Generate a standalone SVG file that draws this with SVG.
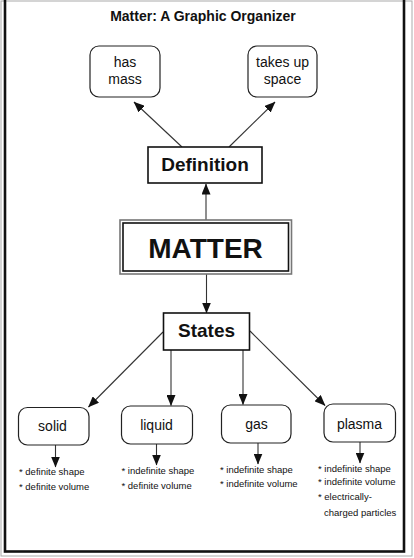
<svg xmlns="http://www.w3.org/2000/svg" width="414" height="558" viewBox="0 0 414 558">
<defs>
<marker id="ah" markerUnits="userSpaceOnUse" markerWidth="11" markerHeight="9" refX="10.5" refY="4.5" orient="auto">
<path d="M0,0 L11,4.5 L0,9 z" fill="#111"/>
</marker>
<style>
.txt{font-family:"Liberation Sans",Arial,sans-serif;fill:#111}
.b{font-weight:bold}
.rnd{fill:#fff;stroke:#222;stroke-width:1.2}
.sq{fill:#fff;stroke:#111;stroke-width:1.6}
.con line{stroke:#333;stroke-width:1.1;marker-end:url(#ah)}
.small{font-size:9.5px}
.lbl{font-size:14px;text-anchor:middle}
</style>
</defs>
<rect x="0" y="0" width="414" height="558" fill="#fff"/>
<rect x="1" y="1" width="411" height="555" fill="none" stroke="#aaa" stroke-width="1"/>
<rect x="5" y="-4" width="399" height="555.5" fill="none" stroke="#111" stroke-width="2.6"/>
<text class="txt b" x="203" y="21" font-size="14" text-anchor="middle">Matter: A Graphic Organizer</text>
<g class="con" id="connectors">
<line x1="182" y1="147" x2="134" y2="102"/>
<line x1="229" y1="147" x2="275" y2="102"/>
<line x1="206" y1="220" x2="206" y2="184"/>
<line x1="206.5" y1="274" x2="206.5" y2="313"/>
<line x1="163" y1="332" x2="88.5" y2="407"/>
<line x1="171" y1="350" x2="171" y2="405.5"/>
<line x1="243" y1="350" x2="243" y2="404.5"/>
<line x1="250" y1="331" x2="325" y2="405.5"/>
<line x1="55.5" y1="445" x2="55.5" y2="467"/>
<line x1="156.5" y1="444" x2="156.5" y2="465"/>
<line x1="258" y1="443" x2="258" y2="464"/>
<line x1="360" y1="442" x2="360" y2="463"/>
</g>
<g id="has-mass">
<rect class="rnd" x="90" y="46" width="70" height="51" rx="9"/>
<text class="txt lbl" x="125" y="67">has</text>
<text class="txt lbl" x="125" y="84">mass</text>
</g>
<g id="takes-up-space">
<rect class="rnd" x="248" y="46" width="69" height="51" rx="9"/>
<text class="txt lbl" x="282.5" y="67">takes up</text>
<text class="txt lbl" x="282.5" y="84">space</text>
</g>
<g id="definition">
<rect class="sq" x="148" y="147" width="114" height="36"/>
<text class="txt b" x="205" y="171" font-size="19" text-anchor="middle">Definition</text>
</g>
<g id="matter">
<rect x="120" y="220" width="171.5" height="54" fill="#fff" stroke="#777" stroke-width="1.6"/>
<rect x="123" y="223" width="165.5" height="48" fill="none" stroke="#111" stroke-width="1.6"/>
<text class="txt b" x="205.5" y="258" font-size="28" text-anchor="middle">MATTER</text>
</g>
<g id="states">
<rect class="sq" x="163.5" y="313" width="86" height="37"/>
<text class="txt b" x="206.5" y="337" font-size="19" text-anchor="middle">States</text>
</g>
<g id="solid">
<rect class="rnd" x="18.5" y="407.5" width="70.5" height="37.5" rx="9"/>
<text class="txt lbl" x="52.5" y="430.5">solid</text>
<text class="txt small" x="19" y="475">* definite shape</text>
<text class="txt small" x="19" y="490">* definite volume</text>
</g>
<g id="liquid">
<rect class="rnd" x="121.5" y="406" width="71" height="38" rx="9"/>
<text class="txt lbl" x="156.5" y="430">liquid</text>
<text class="txt small" x="121.5" y="473.5">* indefinite shape</text>
<text class="txt small" x="121.5" y="488.5">* definite volume</text>
</g>
<g id="gas">
<rect class="rnd" x="221.5" y="405" width="69.5" height="38" rx="9"/>
<text class="txt lbl" x="256.5" y="429">gas</text>
<text class="txt small" x="220" y="472.5">* indefinite shape</text>
<text class="txt small" x="220" y="486.5">* indefinite volume</text>
</g>
<g id="plasma">
<rect class="rnd" x="324" y="404" width="71.5" height="38" rx="9"/>
<text class="txt lbl" x="359.5" y="428.5">plasma</text>
<text class="txt small" x="318" y="471.5">* indefinite shape</text>
<text class="txt small" x="318" y="485">* indefinite volume</text>
<text class="txt small" x="318" y="500">* electrically-</text>
<text class="txt small" x="324" y="515.5">charged particles</text>
</g>
</svg>
